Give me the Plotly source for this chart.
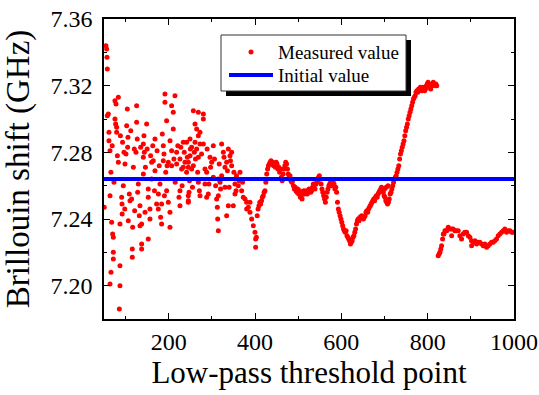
import plotly.graph_objects as go

# ---- Measured values: noisy region (x ~ 50-400) ----
noisy_x = [54.6, 56.1, 56.9, 57.7, 57.7, 60.0, 75.4, 83.2, 77.8, 61.5, 61.5, 63.9, 75.4, 77.0, 79.3, 79.3,
           83.2, 96.3, 98.6, 100.9, 104.0, 102.5, 105.5, 104.8, 125.6, 125.6, 120.2, 124.1, 148.8, 142.6,
           141.1, 143.4, 141.1, 191.2, 191.2, 214.4, 206.7, 210.5, 195.1, 185.1, 168.1, 187.4, 164.2, 168.1,
           187.4, 199.0, 206.7, 210.5, 218.3, 226.0, 229.8, 233.7, 237.6, 241.4, 243.0,
           50.5, 63.9, 73.1, 90.9, 94.7, 91.7, 108.6, 110.2, 114.0, 129.5, 141.1, 133.3, 152.6, 156.5, 160.4,
           152.6, 171.9, 175.8, 183.5, 179.7, 195.1, 199.0, 202.8, 223.7, 226.0, 226.0, 245.3, 245.3,
           67.7, 70.0, 71.6, 87.0, 106.3, 116.4, 133.3, 131.8, 137.2, 156.5, 181.2, 183.5, 202.8,
           71.6, 71.6, 66.2, 63.9, 87.0, 87.0, 115.6, 115.6, 137.2, 137.2, 152.6, 85.5,
           160.4, 196.2, 206.7, 218.3, 233.7, 241.4, 245.3, 248.0,
           257.0, 268.6, 280.2, 280.2, 260.9, 264.7, 272.4, 268.6, 249.3, 260.9, 272.4, 280.2, 253.1, 264.7,
           259.3, 249.3, 268.6, 245.4, 257.0, 253.1, 267.0, 284.0, 287.9, 295.6, 299.5, 303.3, 322.6, 326.5,
           338.1, 341.9, 345.8, 334.2, 330.3, 322.6, 303.3, 314.9, 345.8,
           247.0, 245.4, 268.6, 272.4, 284.0, 287.9, 291.7, 308.7, 318.8, 314.9, 311.0, 330.3, 338.1, 349.6,
           334.2, 353.5, 353.5, 361.2, 365.1, 368.9, 372.8, 376.7, 380.5, 384.4, 388.2, 380.5, 388.2,
           312.6, 313.4, 314.9, 392.1, 396.0, 399.8, 401.4, 401.4,
           # extra scattered points
           66.0, 69.0, 81.0, 88.0, 93.0, 112.0, 118.0, 127.0, 135.0, 146.0, 150.0, 158.0, 163.0, 173.0,
           178.0, 189.0, 193.0, 203.0, 212.0, 221.0, 228.0, 236.0, 250.0, 262.0, 276.0, 289.0, 297.0, 306.0,
           317.0, 328.0, 336.0, 343.0, 351.0, 357.0, 363.0, 371.0,
           92.0, 98.0, 121.0, 128.0, 145.0, 167.0, 176.0, 190.0, 215.0, 231.0, 255.0, 271.0, 293.0, 320.0,
           340.0, 356.0]
noisy_y = [7.344, 7.342, 7.337, 7.330, 7.302, 7.303, 7.311, 7.313, 7.309, 7.292, 7.287, 7.281, 7.300, 7.297, 7.295, 7.292,
           7.274, 7.280, 7.273, 7.279, 7.306, 7.296, 7.289, 7.283, 7.308, 7.298, 7.282, 7.280, 7.297, 7.290,
           7.285, 7.280, 7.277, 7.315, 7.310, 7.314, 7.308, 7.304, 7.299, 7.291, 7.288, 7.284, 7.275, 7.269,
           7.275, 7.274, 7.281, 7.294, 7.280, 7.276, 7.270, 7.286, 7.274, 7.286, 7.277,
           7.247, 7.254, 7.262, 7.253, 7.260, 7.249, 7.255, 7.251, 7.252, 7.261, 7.267, 7.248, 7.253, 7.246, 7.264,
           7.258, 7.249, 7.246, 7.249, 7.261, 7.257, 7.250, 7.244, 7.253, 7.248, 7.257, 7.254, 7.250,
           7.238, 7.231, 7.229, 7.237, 7.239, 7.235, 7.236, 7.242, 7.237, 7.240, 7.241, 7.237, 7.235,
           7.220, 7.216, 7.208, 7.201, 7.212, 7.200, 7.222, 7.217, 7.225, 7.222, 7.228, 7.186,
           7.274, 7.272, 7.272, 7.273, 7.271, 7.268, 7.271, 7.263,
           7.305, 7.304, 7.303, 7.300, 7.297, 7.294, 7.292, 7.290, 7.288, 7.286, 7.285, 7.285, 7.283, 7.282,
           7.280, 7.278, 7.277, 7.274, 7.272, 7.270, 7.268, 7.270, 7.268, 7.277, 7.274, 7.284, 7.285, 7.280,
           7.282, 7.278, 7.280, 7.274, 7.271, 7.266, 7.265, 7.264, 7.272,
           7.256, 7.251, 7.262, 7.254, 7.261, 7.253, 7.255, 7.260, 7.262, 7.254, 7.252, 7.259, 7.248, 7.248,
           7.242, 7.261, 7.255, 7.260, 7.268, 7.257, 7.253, 7.252, 7.250, 7.247, 7.250, 7.246, 7.244,
           7.247, 7.240, 7.233, 7.240, 7.236, 7.232, 7.228, 7.223,
           7.268, 7.284, 7.278, 7.290, 7.286, 7.293, 7.271, 7.288, 7.283, 7.271, 7.282, 7.278, 7.284, 7.281,
           7.272, 7.279, 7.268, 7.287, 7.276, 7.284, 7.283, 7.280, 7.282, 7.276, 7.279, 7.282, 7.271, 7.276,
           7.273, 7.277, 7.269, 7.275, 7.268, 7.266, 7.263, 7.262,
           7.243, 7.246, 7.245, 7.256, 7.244, 7.257, 7.255, 7.254, 7.262, 7.260, 7.259, 7.257, 7.261, 7.258,
           7.259, 7.257]

# ---- Measured values: continuous region (x ~ 400-822) ----
curve_x = [403, 405, 407, 409, 411, 413, 415, 417, 419, 421, 423, 425, 427, 429, 431, 433, 435, 437, 439, 441,
           443, 445, 447, 449, 451, 453, 455, 457, 459, 461, 463, 465, 467, 469, 471, 473, 475, 477, 479, 481,
           483, 485, 487, 489, 491, 493, 495, 497, 499, 501, 503, 505, 507, 509, 511, 513, 515, 517, 519, 521,
           523, 525, 527, 529, 531, 533, 535, 537, 539, 541, 543, 545, 547, 549, 551, 553, 555, 557, 559, 561,
           563, 565, 567, 569, 571, 573, 575, 577, 579, 581, 583, 585, 587, 589, 591, 593, 595, 597, 599, 601,
           603, 605, 607, 609, 611, 613, 615, 617, 619, 621, 623, 625, 627, 629, 631, 633, 635, 637, 639, 641,
           643, 645, 647, 649, 651, 653, 655, 657, 659, 661, 663, 665, 667, 669, 671, 673, 675, 677, 679, 681,
           683, 685, 687, 689, 691, 693, 695, 697, 699, 701, 703, 705, 707, 709, 711, 713, 715, 717, 719, 721,
           723, 725, 727, 729, 731, 733, 735, 737, 739, 741, 743, 745, 747, 749, 751, 753, 755, 757, 759, 761,
           763, 765, 767, 769, 771, 773, 775, 777, 779, 781, 783, 785, 787, 789, 791, 793, 795, 797, 799, 801,
           803, 805, 807, 809, 811, 813, 815, 817, 819, 821, 700, 704, 708]
curve_y = [7.229, 7.242, 7.246, 7.248, 7.250, 7.249, 7.251, 7.253, 7.254, 7.256, 7.257, 7.262, 7.267, 7.270, 7.272, 7.273, 7.274, 7.275, 7.273, 7.274,
           7.272, 7.273, 7.271, 7.274, 7.273, 7.270, 7.271, 7.268, 7.270, 7.265, 7.263, 7.267, 7.270, 7.272, 7.274, 7.273, 7.270, 7.267, 7.265, 7.266,
           7.263, 7.262, 7.263, 7.260, 7.258, 7.259, 7.257, 7.256, 7.258, 7.255, 7.257, 7.253, 7.254, 7.252, 7.255, 7.257, 7.255, 7.256, 7.257, 7.255,
           7.256, 7.258, 7.257, 7.256, 7.257, 7.259, 7.261, 7.259, 7.258, 7.261, 7.262, 7.263, 7.265, 7.266, 7.264, 7.261, 7.258, 7.256, 7.254, 7.252,
           7.250, 7.253, 7.256, 7.258, 7.260, 7.261, 7.262, 7.260, 7.262, 7.263, 7.261, 7.258, 7.259, 7.256, 7.250, 7.246, 7.244, 7.242, 7.240, 7.238,
           7.236, 7.234, 7.233, 7.232, 7.233, 7.230, 7.229, 7.228, 7.227, 7.225, 7.226, 7.227, 7.229, 7.230, 7.232, 7.234, 7.237, 7.239, 7.240, 7.239,
           7.241, 7.241, 7.242, 7.241, 7.240, 7.241, 7.242, 7.244, 7.245, 7.244, 7.246, 7.247, 7.248, 7.249, 7.250, 7.251, 7.252, 7.251, 7.253, 7.254,
           7.253, 7.255, 7.256, 7.257, 7.258, 7.259, 7.258, 7.256, 7.254, 7.253, 7.251, 7.250, 7.249, 7.250, 7.252, 7.255, 7.256, 7.258, 7.260, 7.262,
           7.264, 7.265, 7.266, 7.268, 7.270, 7.272, 7.276, 7.279, 7.281, 7.283, 7.285, 7.287, 7.290, 7.293, 7.295, 7.297, 7.300, 7.302, 7.304, 7.306,
           7.308, 7.310, 7.312, 7.313, 7.314, 7.316, 7.317, 7.316, 7.318, 7.317, 7.319, 7.318, 7.317, 7.319, 7.318, 7.317, 7.318, 7.320, 7.321, 7.322,
           7.321, 7.319, 7.318, 7.320, 7.321, 7.322, 7.321, 7.320, 7.321, 7.320, 7.258, 7.259, 7.260]

# ---- Measured values: second segment (x ~ 824-1000) ----
tail_x = [824.4, 826.5, 828.3, 830.4, 832.2, 834.5, 836.2, 837.6, 840.0, 842.2, 844.0, 847.6, 851.0, 855.3, 855.5,
          859.0, 863.0, 866.5, 870.8, 874.6, 878.5, 882.3, 886.0, 890.1, 894.0, 897.8, 901.6, 901.8, 905.5, 909.5,
          913.2, 917.0, 920.9, 925.0, 928.7, 932.5, 936.4, 940.2, 944.1, 948.0, 951.8, 955.6, 959.5, 963.4, 967.3,
          971.2, 975.0, 978.8, 982.7, 986.5, 990.4, 994.2, 998.0]
tail_y = [7.218, 7.219, 7.220, 7.222, 7.224, 7.228, 7.231, 7.231, 7.233, 7.233, 7.233, 7.235, 7.234, 7.234, 7.230,
          7.234, 7.233, 7.233, 7.233, 7.230, 7.228, 7.231, 7.232, 7.232, 7.230, 7.229, 7.227, 7.224, 7.226, 7.227,
          7.225, 7.226, 7.226, 7.225, 7.224, 7.225, 7.223, 7.224, 7.225, 7.226, 7.226, 7.227, 7.228, 7.230, 7.231,
          7.232, 7.233, 7.234, 7.232, 7.233, 7.233, 7.232, 7.232]

meas_x = noisy_x + curve_x + tail_x
meas_y = noisy_y + curve_y + tail_y

init_x = [50, 1000]
init_y = [7.264, 7.264]

series_names = ["Measured value", "Initial value"]
RED, BLUE = "#ff0000", "#0000ff"
FONT = "Liberation Serif"

fig = go.Figure()
fig.add_trace(go.Scatter(x=meas_x, y=meas_y, mode="markers", name=series_names[0], showlegend=False,
                         marker=dict(color=RED, size=5, line=dict(width=0))))
fig.add_trace(go.Scatter(x=init_x, y=init_y, mode="lines", name=series_names[1], showlegend=False,
                         line=dict(color=BLUE, width=4)))

W, H = 539, 395
L, R, T, B = 104, 25, 19, 76
pw, ph = W - L - R, H - T - B

def px_x(p):
    return (p - L) / pw

def px_y(p):
    return (H - B - p) / ph

# ---- legend box (with drop shadow) drawn in paper space ----
box_l, box_r, box_t, box_b, sh = 221, 406, 35, 91, 5
row_y = [52, 75]
fig.add_shape(type="rect", xref="paper", yref="paper",
              x0=px_x(box_l + sh), x1=px_x(box_r + sh), y0=px_y(box_b + sh), y1=px_y(box_t + sh),
              fillcolor="black", line=dict(width=0), layer="above")
fig.add_shape(type="rect", xref="paper", yref="paper",
              x0=px_x(box_l), x1=px_x(box_r), y0=px_y(box_b), y1=px_y(box_t),
              fillcolor="white", line=dict(color="#333333", width=1), layer="above")
fig.add_shape(type="circle", xref="paper", yref="paper",
              x0=px_x(248.5), x1=px_x(253.5), y0=px_y(row_y[0] + 2.5), y1=px_y(row_y[0] - 2.5),
              fillcolor=RED, line=dict(width=0), layer="above")
fig.add_shape(type="line", xref="paper", yref="paper",
              x0=px_x(229), x1=px_x(273), y0=px_y(row_y[1]), y1=px_y(row_y[1]),
              line=dict(color=BLUE, width=4), layer="above")
for name, ry in zip(series_names, row_y):
    fig.add_annotation(xref="paper", yref="paper", x=px_x(276), y=px_y(ry + 1),
                       xanchor="left", yanchor="middle", showarrow=False, text=name,
                       font=dict(family=FONT, size=19, color="black"))

fig.update_layout(
    width=W, height=H,
    margin=dict(l=L, r=R, t=T, b=B, autoexpand=False),
    paper_bgcolor="white", plot_bgcolor="white",
    font=dict(family=FONT, color="black"),
    showlegend=False,
    xaxis=dict(range=[50, 1000], tick0=0, dtick=200, ticks="inside", ticklen=6, tickwidth=1.2,
               tickcolor="black", showline=True, linecolor="black", linewidth=1.5, mirror="ticks",
               showgrid=False, zeroline=False, automargin=False,
               tickfont=dict(family=FONT, size=24, color="black"), ticklabelstandoff=0,
               minor=dict(dtick=100, tick0=0, ticks="inside", ticklen=3.5, tickcolor="black", tickwidth=1.2),
               title=dict(text="Low-pass threshold point", font=dict(family=FONT, size=31, color="black"),
                          standoff=6)),
    yaxis=dict(range=[7.18, 7.36], tick0=7.2, dtick=0.04, tickformat=".2f", ticks="inside", ticklen=6,
               tickwidth=1.2, tickcolor="black", showline=True, linecolor="black", linewidth=1.5,
               mirror="ticks", showgrid=False, zeroline=False, automargin=False,
               tickfont=dict(family=FONT, size=24, color="black"), ticklabelstandoff=5,
               minor=dict(dtick=0.02, tick0=7.2, ticks="inside", ticklen=3.5, tickcolor="black", tickwidth=1.2),
               title=dict(text="Brillouin shift (GHz)", font=dict(family=FONT, size=33, color="black"),
                          standoff=12)),
)

fig.write_html("out.html", config={"displayModeBar": False},
               post_script="document.body.style.margin='0';document.body.style.padding='0';")
